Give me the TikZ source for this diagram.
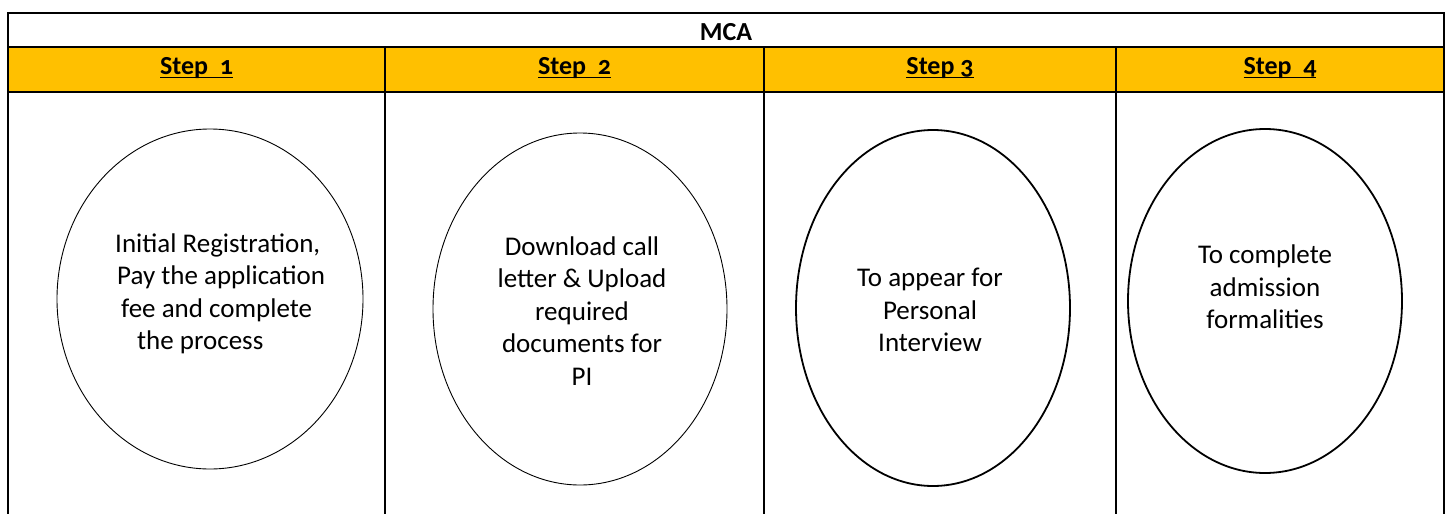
\documentclass[tikz,border=0pt]{standalone}
\usepackage{fontspec}
\setmainfont{Carlito}[Numbers=OldStyle]
\usepackage{tikz}
\usetikzlibrary{shapes.geometric}
\definecolor{stepgold}{HTML}{FFC000}
\newcommand{\stepul}[1]{\setbox0\hbox{#1}\rlap{\rule[-4pt]{\wd0}{1.3pt}}\box0}

\begin{document}
\begin{tikzpicture}[x=1pt,y=-1pt,
    grid/.style={line width=1.5pt},
    head/.style={font=\fontsize{26}{30}\selectfont\bfseries,anchor=base,inner sep=0pt},
    oval/.style n args={2}{draw,ellipse,minimum width=#1,minimum height=#2,inner sep=0pt},
    thin oval/.style={line width=0.9pt},
    thick oval/.style={line width=1.8pt},
    body/.style={font=\fontsize{27}{32.5}\selectfont,align=center,inner sep=0pt}]
\useasboundingbox (0,0) rectangle (1449,514);
\fill [stepgold] (8,47) rectangle (1444,92);
\draw [grid] (8,514) -- (8,13) -- (1444,13) -- (1444,514);
\draw [grid] (8,47) -- (1444,47);
\draw [grid] (8,92) -- (1444,92);
\foreach \x in {385,764,1116}
    \draw [grid] (\x,47) -- (\x,514);
\node [head] (mca) at (726,40) {MCA};
\node [head] (s1) at (196.5,74) {\stepul{Step\ \ 1}};
\node [head] (s2) at (574.5,74) {\stepul{Step\ \ 2}};
\node [head] (s3) at (940,74)   {\stepul{Step 3}};
\node [head] (s4) at (1280,74)  {\stepul{Step\ \ 4}};
\node [oval={306}{340},thin oval]  (e1) at (210,299)  {};
\node [oval={294}{352},thin oval]  (e2) at (580,309)  {};
\node [oval={274}{356},thick oval] (e3) at (933,308)  {};
\node [oval={274}{344},thick oval] (e4) at (1265,301) {};
\node [body,anchor=west,align=left] (t1) at (115,294) {Initial Registration,\\\hspace*{2pt}Pay the application\\\hspace*{6pt}fee and complete\\\hspace*{22pt}the process};
\node [body] (t2) at (582,311)  {Download call\\letter \& Upload\\required\\documents for\\PI};
\node [body] (t3) at (930,310)  {To appear for\\Personal\\Interview};
\node [body] (t4) at (1265,287) {To complete\\admission\\formalities};
\end{tikzpicture}
\end{document}
